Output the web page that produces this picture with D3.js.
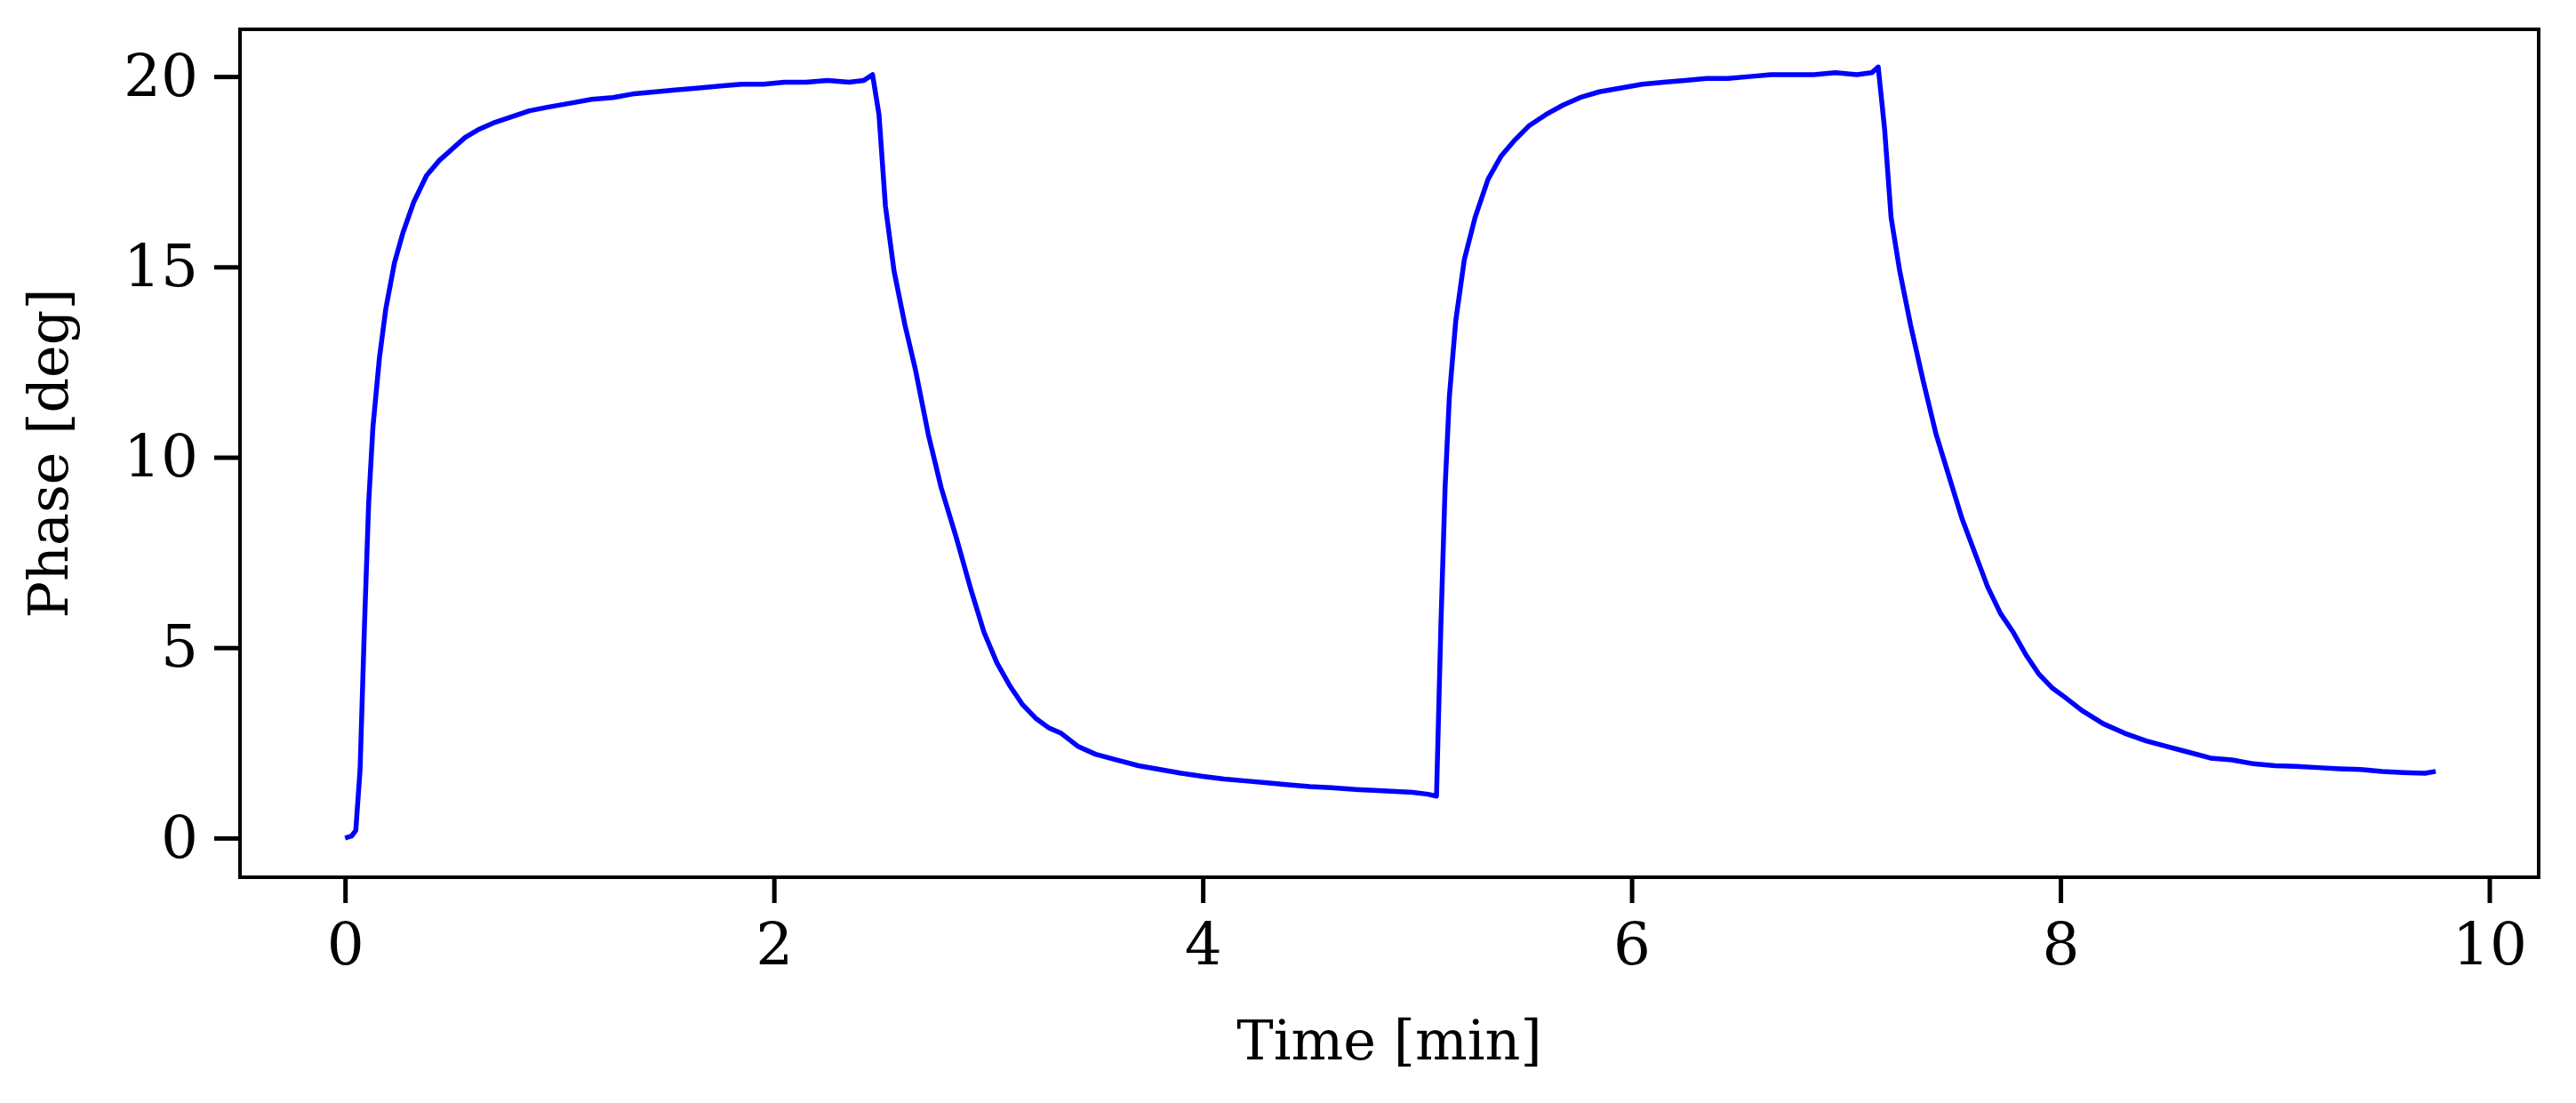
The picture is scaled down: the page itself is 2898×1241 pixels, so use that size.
<!DOCTYPE html>
<html>
<head>
<meta charset="utf-8">
<script src="https://cdn.jsdelivr.net/npm/d3@7"></script>
<style>
  body { margin: 0; background: #fff; }
  text { font-family: "DejaVu Serif", serif; }
</style>
</head>
<body>
<svg id="chart" width="2898" height="1241"></svg>
<script>
const timeMin = [
  0, 0.03, 0.05, 0.07, 0.09, 0.11, 0.13, 0.16, 0.19, 0.23, 0.27, 0.32, 0.38, 0.44, 0.5, 0.56,
  0.62, 0.7, 0.78, 0.86, 0.95, 1.05, 1.15, 1.25, 1.35, 1.45, 1.55, 1.65, 1.75, 1.85, 1.95,
  2.05, 2.15, 2.25, 2.35, 2.42, 2.46, 2.49, 2.52, 2.56, 2.61, 2.66, 2.72, 2.78, 2.85, 2.92,
  2.98, 3.04, 3.1, 3.16, 3.22, 3.28, 3.34, 3.42, 3.5, 3.6, 3.7, 3.8, 3.9, 4.0, 4.1, 4.2,
  4.3, 4.4, 4.5, 4.6, 4.7, 4.8, 4.9, 4.98, 5.05, 5.09, 5.11, 5.13, 5.15, 5.18, 5.22, 5.27,
  5.33, 5.39, 5.45, 5.52, 5.6, 5.68, 5.76, 5.85, 5.95, 6.05, 6.15, 6.25, 6.35, 6.45, 6.55,
  6.65, 6.75, 6.85, 6.95, 7.05, 7.12, 7.15, 7.18, 7.21, 7.25, 7.3, 7.36, 7.42, 7.48, 7.54,
  7.6, 7.66, 7.72, 7.78, 7.84, 7.9, 7.96, 8.02, 8.1, 8.2, 8.3, 8.4, 8.5, 8.6, 8.7, 8.8,
  8.9, 9.0, 9.1, 9.2, 9.3, 9.4, 9.5, 9.6, 9.7, 9.75
];
const phaseDeg = [
  0, 0.05, 0.2, 1.8, 5.5, 8.8, 10.8, 12.6, 13.9, 15.1, 15.9, 16.7, 17.4, 17.8, 18.1, 18.4,
  18.6, 18.8, 18.95, 19.1, 19.2, 19.3, 19.4, 19.45, 19.55, 19.6, 19.65, 19.7, 19.75, 19.8, 19.8,
  19.85, 19.85, 19.9, 19.85, 19.9, 20.05, 19.0, 16.6, 14.9, 13.5, 12.3, 10.6, 9.2, 7.9, 6.5,
  5.4, 4.6, 4.0, 3.5, 3.15, 2.9, 2.75, 2.4, 2.2, 2.05, 1.9, 1.8, 1.7, 1.62, 1.55, 1.5,
  1.45, 1.4, 1.35, 1.32, 1.28, 1.25, 1.22, 1.2, 1.15, 1.1, 5.5, 9.2, 11.6, 13.6, 15.2, 16.3,
  17.3, 17.9, 18.3, 18.7, 19.0, 19.25, 19.45, 19.6, 19.7, 19.8, 19.85, 19.9, 19.95, 19.95, 20.0,
  20.05, 20.05, 20.05, 20.1, 20.05, 20.1, 20.25, 18.6, 16.3, 14.9, 13.5, 12.0, 10.6, 9.5, 8.4,
  7.5, 6.6, 5.9, 5.4, 4.8, 4.3, 3.95, 3.7, 3.35, 3.0, 2.75, 2.55, 2.4, 2.25, 2.1, 2.05,
  1.95, 1.9, 1.88, 1.85, 1.82, 1.8, 1.75, 1.72, 1.7, 1.75
];
const xTicks = [0, 2, 4, 6, 8, 10];
const yTicks = [0, 5, 10, 15, 20];

const svg = d3.select('#chart');
const box = { left: 270, right: 2856, top: 33, bottom: 987 };

// x: 0 -> 389px, 10 -> 2800px ; y: 0 -> 943px, 20 -> 86px
const x = d3.scaleLinear().domain([-0.49, 10.23]).range([box.left, box.right]);
const y = d3.scaleLinear().domain([-1.03, 21.24]).range([box.bottom, box.top]);

// curve
svg.append('path')
  .datum(timeMin.map((t, i) => [t, phaseDeg[i]]))
  .attr('fill', 'none')
  .attr('stroke', '#0000ff')
  .attr('stroke-width', 5.5)
  .attr('stroke-linejoin', 'round')
  .attr('d', d3.line().x(d => x(d[0])).y(d => y(d[1])));

// axes
const xAxis = svg.append('g')
  .attr('transform', `translate(0,${ box.bottom })`)
  .call(d3.axisBottom(x).tickValues(xTicks).tickSize(29).tickPadding(22).tickFormat(d3.format('d')));
const yAxis = svg.append('g')
  .attr('transform', `translate(${ box.left },0)`)
  .call(d3.axisLeft(y).tickValues(yTicks).tickSize(29).tickPadding(18).tickFormat(d3.format('d')));
[xAxis, yAxis].forEach(g => {
  g.select('.domain').remove();
  g.selectAll('.tick line').attr('stroke', '#000').attr('stroke-width', 5);
  g.selectAll('.tick text').attr('font-size', 66).attr('font-family', 'DejaVu Serif').attr('fill', '#000');
});

// frame
svg.append('rect')
  .attr('x', box.left).attr('y', box.top)
  .attr('width', box.right - box.left).attr('height', box.bottom - box.top)
  .attr('fill', 'none').attr('stroke', '#000').attr('stroke-width', 4);

// labels
svg.append('text')
  .attr('x', (box.left + box.right) / 2).attr('y', 1192)
  .attr('text-anchor', 'middle').attr('font-size', 62)
  .text('Time [min]');
svg.append('text')
  .attr('transform', `translate(76,${ (box.top + box.bottom) / 2 }) rotate(-90)`)
  .attr('text-anchor', 'middle').attr('font-size', 62)
  .text('Phase [deg]');
</script>
</body>
</html>
